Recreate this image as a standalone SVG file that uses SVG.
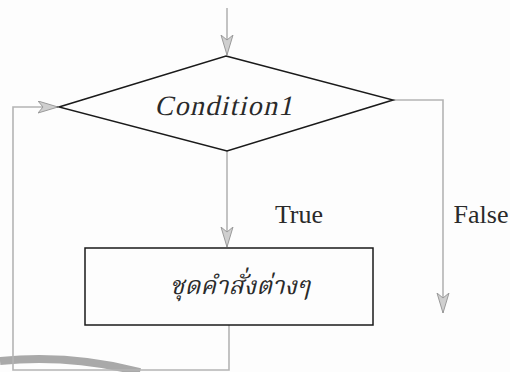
<svg xmlns="http://www.w3.org/2000/svg" width="510" height="372" viewBox="0 0 510 372">
<style>
.conn{fill:none;stroke:#b4b4b4;stroke-width:1.6}
.shape{fill:none;stroke:#1a1a1a;stroke-width:1.5}
.lbl{font-family:"Liberation Serif","Times New Roman",serif;fill:#2a2a2a}
.thai{font-family:"Noto Serif Thai","Noto Sans Thai","Liberation Serif","DejaVu Sans",serif;font-style:italic;fill:#2a2a2a}
</style>
<defs>
<marker id="arr" markerUnits="userSpaceOnUse" markerWidth="22" markerHeight="14" refX="20" refY="6.5" orient="auto">
<path d="M0,0.5 L20,6.5 L0,12.5 L5,6.5 Z" fill="#cfcfcf" stroke="#9a9a9a" stroke-width="1"/>
</marker>
</defs>
<rect width="510" height="372" fill="#fdfdfd"/>
<path d="M0,361 Q70,354 140,372" fill="none" stroke="#a9a9a9" stroke-width="8"/>
<g id="connectors">
<path class="conn" d="M227,8 V55" marker-end="url(#arr)"/>
<path class="conn" d="M227,151 V247" marker-end="url(#arr)"/>
<path class="conn" d="M393,100 H443 V313" marker-end="url(#arr)"/>
<path class="conn" d="M229,325 V370 H13 V107 H58" marker-end="url(#arr)"/>
</g>
<g id="condition1">
<polygon class="shape" points="226,56 393,100 227,151 59,107"/>
<text class="lbl" x="0" y="0" font-size="28" text-anchor="middle" letter-spacing="1.3" transform="translate(224,115) skewX(-13)">Condition1</text>
</g>
<g id="statements">
<rect class="shape" x="85" y="248" width="288" height="77"/>
<text class="thai" x="240" y="294" font-size="25" text-anchor="middle">ชุดคำสั่งต่างๆ</text>
</g>
<g id="labels">
<text class="lbl" x="299" y="223" font-size="26" text-anchor="middle">True</text>
<text class="lbl" x="481" y="223" font-size="26" text-anchor="middle">False</text>
</g>
</svg>
